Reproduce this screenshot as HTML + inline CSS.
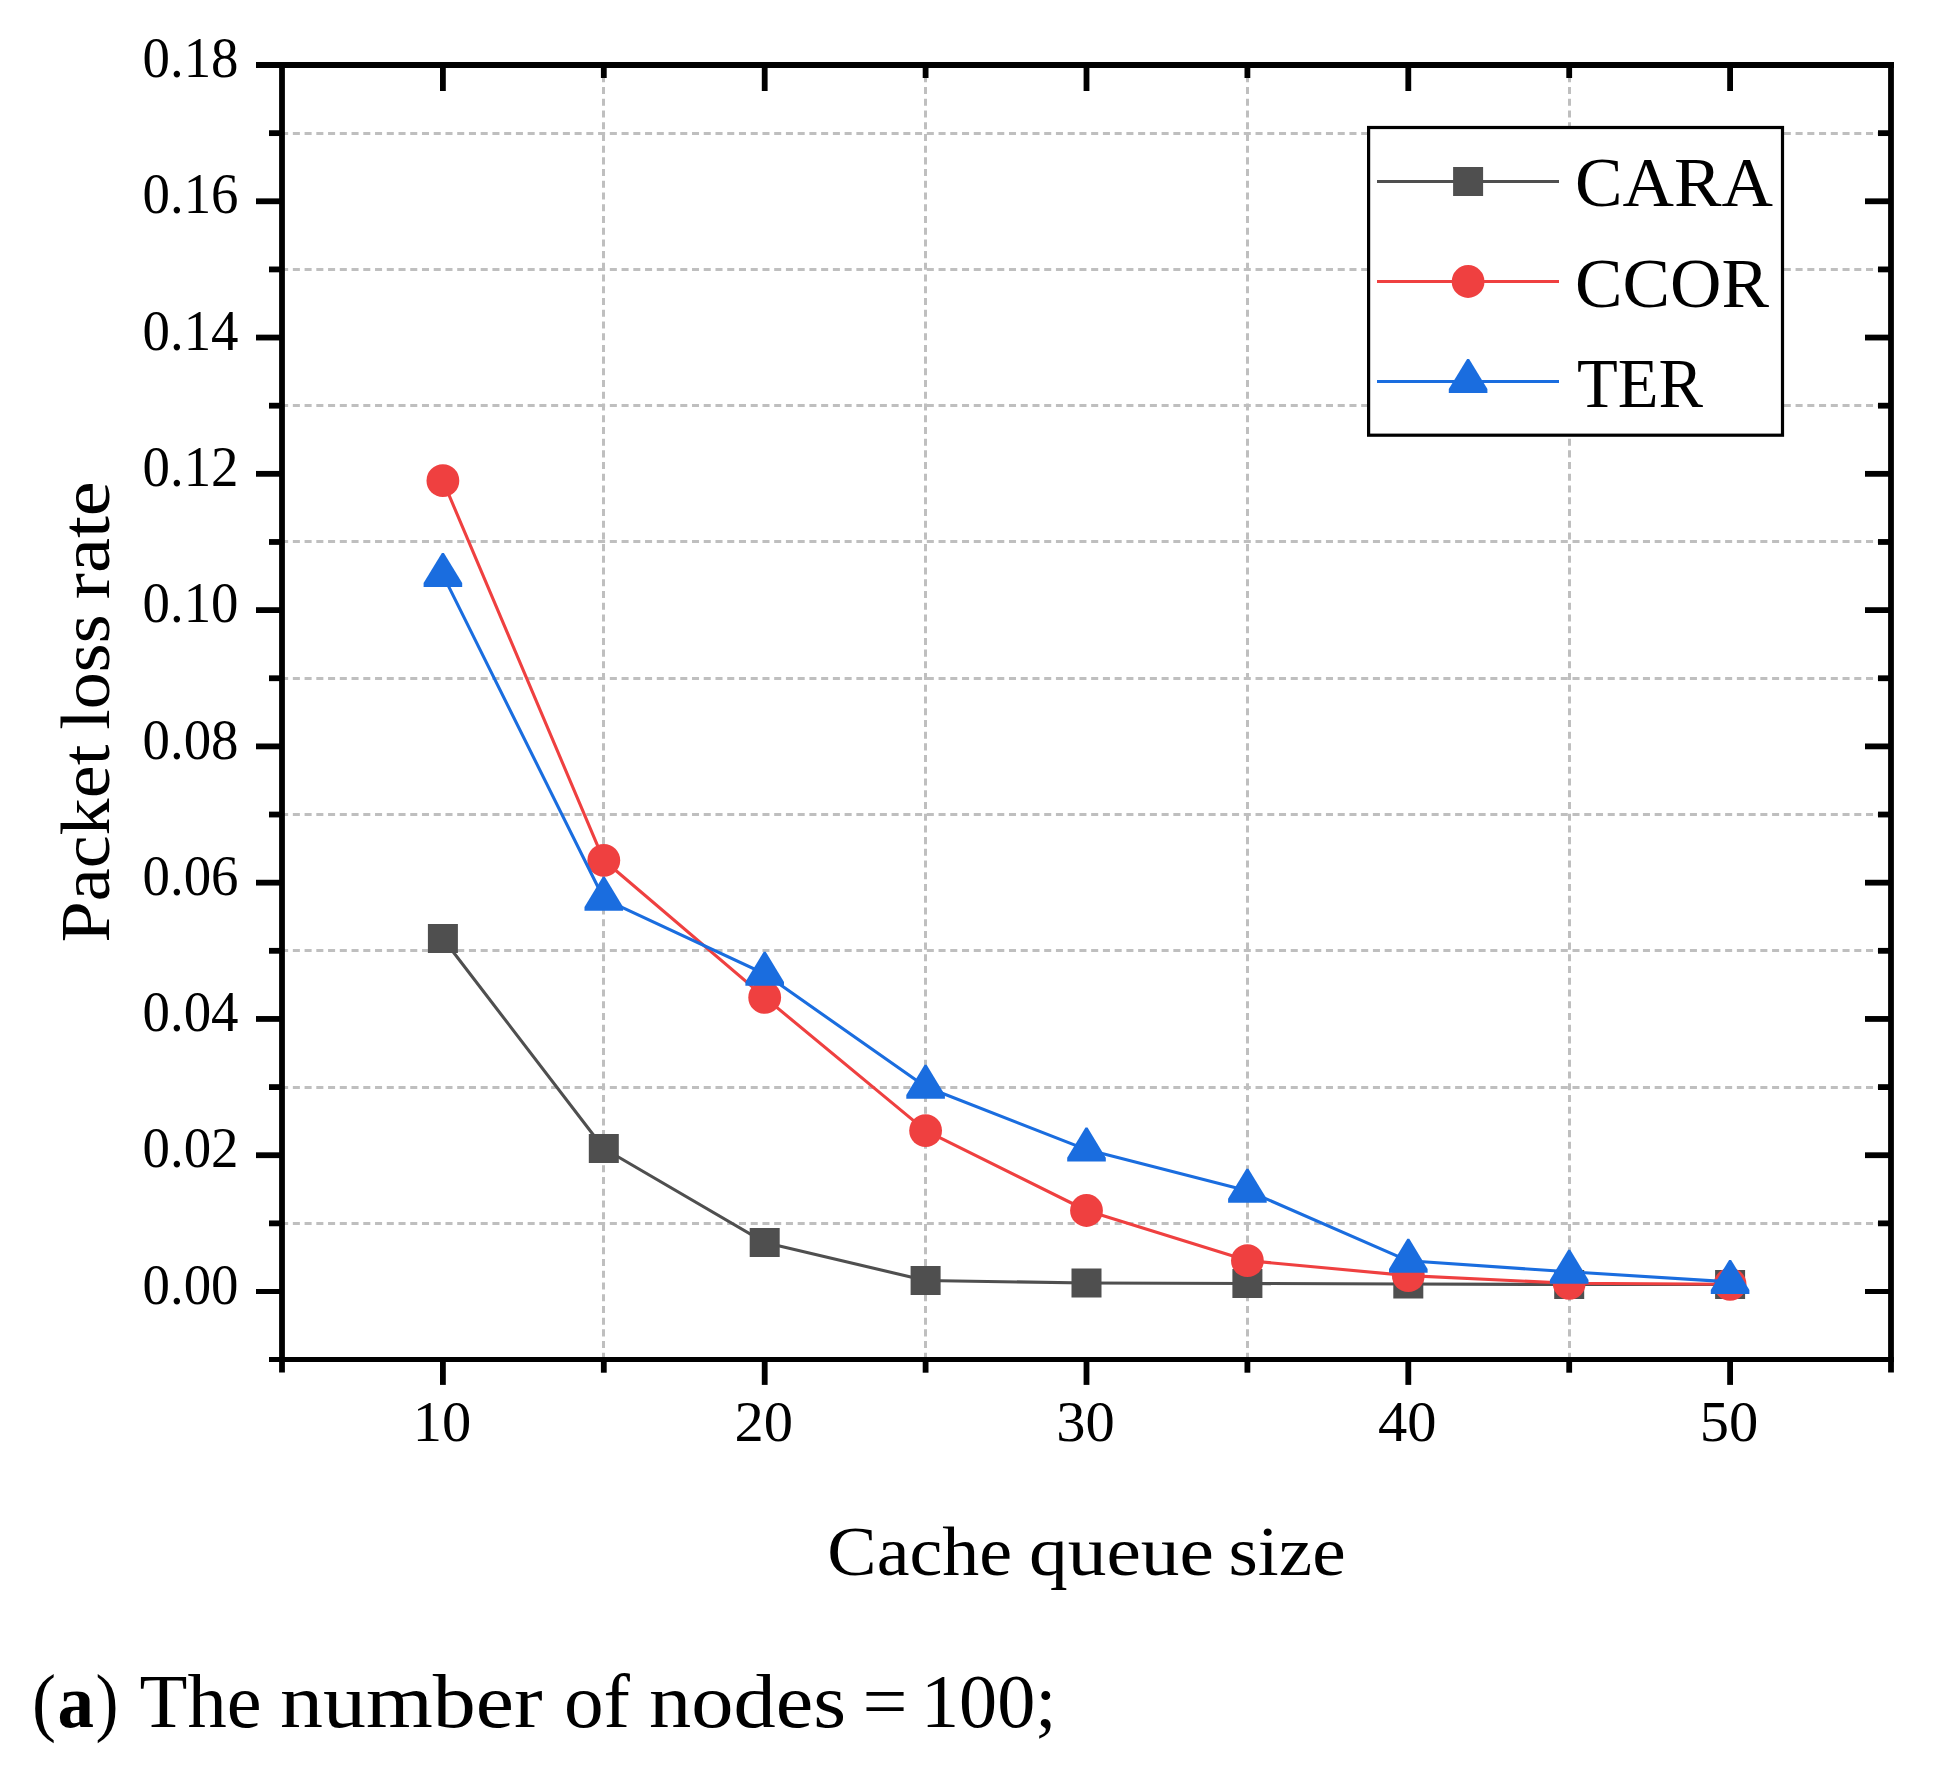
<!DOCTYPE html>
<html lang="en">
<head>
<meta charset="utf-8">
<title>Packet loss rate vs cache queue size</title>
<style>
html,body{margin:0;padding:0;background:#fff;}
body{width:1934px;height:1771px;overflow:hidden;}
svg{display:block;}
text{font-family:"Liberation Serif",serif;fill:#000;}
.tk{font-size:57.5px;}
.ti{font-size:69px;}
.lg{font-size:70px;}
.cp{font-size:76px;}
</style>
</head>
<body>
<svg width="1934" height="1771" viewBox="0 0 1934 1771">
<rect x="0" y="0" width="1934" height="1771" fill="#ffffff"/>
<g stroke="#bfbfbf" stroke-width="3" stroke-dasharray="7.04 4.7" fill="none">
<line x1="281.1" y1="1223.50" x2="1891.0" y2="1223.50"/>
<line x1="281.1" y1="1087.50" x2="1891.0" y2="1087.50"/>
<line x1="281.1" y1="950.50" x2="1891.0" y2="950.50"/>
<line x1="281.1" y1="814.50" x2="1891.0" y2="814.50"/>
<line x1="281.1" y1="678.50" x2="1891.0" y2="678.50"/>
<line x1="281.1" y1="541.50" x2="1891.0" y2="541.50"/>
<line x1="281.1" y1="405.50" x2="1891.0" y2="405.50"/>
<line x1="281.1" y1="269.50" x2="1891.0" y2="269.50"/>
<line x1="281.1" y1="133.50" x2="1891.0" y2="133.50"/>
<line x1="603.50" y1="63.6" x2="603.50" y2="1359.6" stroke-dasharray="7.03 4.69"/>
<line x1="925.50" y1="63.6" x2="925.50" y2="1359.6" stroke-dasharray="7.03 4.69"/>
<line x1="1247.50" y1="63.6" x2="1247.50" y2="1359.6" stroke-dasharray="7.03 4.69"/>
<line x1="1569.50" y1="63.6" x2="1569.50" y2="1359.6" stroke-dasharray="7.03 4.69"/>
</g>
<g>
<polyline fill="none" stroke="#4f4f4f" stroke-width="3.1" stroke-linejoin="round" points="442.9,938.5 603.8,1148.5 764.7,1242.5 925.6,1280.5 1086.5,1283.0 1247.4,1283.5 1408.3,1284.0 1569.2,1284.5 1730.1,1284.5"/>
<rect x="427.9" y="924.0" width="30.0" height="29.0" fill="#4f4f4f"/>
<rect x="588.8" y="1134.0" width="30.0" height="29.0" fill="#4f4f4f"/>
<rect x="749.7" y="1228.0" width="30.0" height="29.0" fill="#4f4f4f"/>
<rect x="910.6" y="1266.0" width="30.0" height="29.0" fill="#4f4f4f"/>
<rect x="1071.5" y="1268.5" width="30.0" height="29.0" fill="#4f4f4f"/>
<rect x="1232.4" y="1269.0" width="30.0" height="29.0" fill="#4f4f4f"/>
<rect x="1393.3" y="1269.5" width="30.0" height="29.0" fill="#4f4f4f"/>
<rect x="1554.2" y="1270.0" width="30.0" height="29.0" fill="#4f4f4f"/>
<rect x="1715.1" y="1270.0" width="30.0" height="29.0" fill="#4f4f4f"/>
</g>
<g>
<polyline fill="none" stroke="#ef4040" stroke-width="3.1" stroke-linejoin="round" points="442.9,480.7 603.8,860.3 764.7,997.4 925.6,1130.6 1086.5,1210.5 1247.4,1260.6 1408.3,1275.6 1569.2,1283.3 1730.1,1284.3"/>
<circle cx="442.9" cy="480.7" r="16.4" fill="#ef4040"/>
<circle cx="603.8" cy="860.3" r="16.4" fill="#ef4040"/>
<circle cx="764.7" cy="997.4" r="16.4" fill="#ef4040"/>
<circle cx="925.6" cy="1130.6" r="16.4" fill="#ef4040"/>
<circle cx="1086.5" cy="1210.5" r="16.4" fill="#ef4040"/>
<circle cx="1247.4" cy="1260.6" r="16.4" fill="#ef4040"/>
<circle cx="1408.3" cy="1275.6" r="16.4" fill="#ef4040"/>
<circle cx="1569.2" cy="1283.3" r="16.4" fill="#ef4040"/>
<circle cx="1730.1" cy="1284.3" r="16.4" fill="#ef4040"/>
</g>
<g>
<polyline fill="none" stroke="#1a6ddf" stroke-width="3.1" stroke-linejoin="round" points="442.9,574.9 603.8,898.8 764.7,973.8 925.6,1086.8 1086.5,1149.6 1247.4,1190.7 1408.3,1260.8 1569.2,1271.8 1730.1,1281.9"/>
<polygon points="441.9,552.9 443.9,552.9 462.2,583.0 462.2,586.9 423.6,586.9 423.6,583.0" fill="#1a6ddf"/>
<polygon points="602.8,876.8 604.8,876.8 623.1,906.9 623.1,910.8 584.5,910.8 584.5,906.9" fill="#1a6ddf"/>
<polygon points="763.7,951.8 765.7,951.8 784.0,981.9 784.0,985.8 745.4,985.8 745.4,981.9" fill="#1a6ddf"/>
<polygon points="924.6,1064.8 926.6,1064.8 944.9,1094.9 944.9,1098.8 906.3,1098.8 906.3,1094.9" fill="#1a6ddf"/>
<polygon points="1085.5,1127.6 1087.5,1127.6 1105.8,1157.7 1105.8,1161.6 1067.2,1161.6 1067.2,1157.7" fill="#1a6ddf"/>
<polygon points="1246.4,1168.7 1248.4,1168.7 1266.7,1198.8 1266.7,1202.7 1228.1,1202.7 1228.1,1198.8" fill="#1a6ddf"/>
<polygon points="1407.3,1238.8 1409.3,1238.8 1427.6,1268.9 1427.6,1272.8 1389.0,1272.8 1389.0,1268.9" fill="#1a6ddf"/>
<polygon points="1568.2,1249.8 1570.2,1249.8 1588.5,1279.9 1588.5,1283.8 1549.9,1283.8 1549.9,1279.9" fill="#1a6ddf"/>
<polygon points="1729.1,1259.9 1731.1,1259.9 1749.4,1290.0 1749.4,1293.9 1710.8,1293.9 1710.8,1290.0" fill="#1a6ddf"/>
</g>
<g stroke="#000" stroke-width="5.8" fill="none" stroke-linecap="butt">
<line x1="256.0" y1="65.0" x2="1893.9" y2="65.0" stroke-width="6"/>
<line x1="269.0" y1="1359.6" x2="1893.9" y2="1359.6" stroke-width="5"/>
<line x1="282.0" y1="62.1" x2="282.0" y2="1372.6"/>
<line x1="1891.0" y1="62.1" x2="1891.0" y2="1372.6"/>
<line x1="256.0" y1="1291.50" x2="282.0" y2="1291.50" stroke-width="5"/>
<line x1="1865.0" y1="1291.50" x2="1891.0" y2="1291.50" stroke-width="5"/>
<line x1="269.0" y1="1223.36" x2="282.0" y2="1223.36"/>
<line x1="1878.0" y1="1223.36" x2="1891.0" y2="1223.36"/>
<line x1="256.0" y1="1155.22" x2="282.0" y2="1155.22"/>
<line x1="1865.0" y1="1155.22" x2="1891.0" y2="1155.22"/>
<line x1="269.0" y1="1087.08" x2="282.0" y2="1087.08"/>
<line x1="1878.0" y1="1087.08" x2="1891.0" y2="1087.08"/>
<line x1="256.0" y1="1018.94" x2="282.0" y2="1018.94"/>
<line x1="1865.0" y1="1018.94" x2="1891.0" y2="1018.94"/>
<line x1="269.0" y1="950.81" x2="282.0" y2="950.81"/>
<line x1="1878.0" y1="950.81" x2="1891.0" y2="950.81"/>
<line x1="256.0" y1="882.67" x2="282.0" y2="882.67"/>
<line x1="1865.0" y1="882.67" x2="1891.0" y2="882.67"/>
<line x1="269.0" y1="814.53" x2="282.0" y2="814.53"/>
<line x1="1878.0" y1="814.53" x2="1891.0" y2="814.53"/>
<line x1="256.0" y1="746.39" x2="282.0" y2="746.39"/>
<line x1="1865.0" y1="746.39" x2="1891.0" y2="746.39"/>
<line x1="269.0" y1="678.25" x2="282.0" y2="678.25"/>
<line x1="1878.0" y1="678.25" x2="1891.0" y2="678.25"/>
<line x1="256.0" y1="610.11" x2="282.0" y2="610.11"/>
<line x1="1865.0" y1="610.11" x2="1891.0" y2="610.11"/>
<line x1="269.0" y1="541.97" x2="282.0" y2="541.97"/>
<line x1="1878.0" y1="541.97" x2="1891.0" y2="541.97"/>
<line x1="256.0" y1="473.83" x2="282.0" y2="473.83"/>
<line x1="1865.0" y1="473.83" x2="1891.0" y2="473.83"/>
<line x1="269.0" y1="405.69" x2="282.0" y2="405.69"/>
<line x1="1878.0" y1="405.69" x2="1891.0" y2="405.69"/>
<line x1="256.0" y1="337.55" x2="282.0" y2="337.55"/>
<line x1="1865.0" y1="337.55" x2="1891.0" y2="337.55"/>
<line x1="269.0" y1="269.42" x2="282.0" y2="269.42"/>
<line x1="1878.0" y1="269.42" x2="1891.0" y2="269.42"/>
<line x1="256.0" y1="201.28" x2="282.0" y2="201.28"/>
<line x1="1865.0" y1="201.28" x2="1891.0" y2="201.28"/>
<line x1="269.0" y1="133.14" x2="282.0" y2="133.14"/>
<line x1="1878.0" y1="133.14" x2="1891.0" y2="133.14"/>
<line x1="442.90" y1="65.0" x2="442.90" y2="91.0"/>
<line x1="442.90" y1="1359.6" x2="442.90" y2="1384.9"/>
<line x1="603.80" y1="65.0" x2="603.80" y2="78.0"/>
<line x1="603.80" y1="1359.6" x2="603.80" y2="1372.7"/>
<line x1="764.70" y1="65.0" x2="764.70" y2="91.0"/>
<line x1="764.70" y1="1359.6" x2="764.70" y2="1384.9"/>
<line x1="925.60" y1="65.0" x2="925.60" y2="78.0"/>
<line x1="925.60" y1="1359.6" x2="925.60" y2="1372.7"/>
<line x1="1086.50" y1="65.0" x2="1086.50" y2="91.0"/>
<line x1="1086.50" y1="1359.6" x2="1086.50" y2="1384.9"/>
<line x1="1247.40" y1="65.0" x2="1247.40" y2="78.0"/>
<line x1="1247.40" y1="1359.6" x2="1247.40" y2="1372.7"/>
<line x1="1408.30" y1="65.0" x2="1408.30" y2="91.0"/>
<line x1="1408.30" y1="1359.6" x2="1408.30" y2="1384.9"/>
<line x1="1569.20" y1="65.0" x2="1569.20" y2="78.0"/>
<line x1="1569.20" y1="1359.6" x2="1569.20" y2="1372.7"/>
<line x1="1730.10" y1="65.0" x2="1730.10" y2="91.0"/>
<line x1="1730.10" y1="1359.6" x2="1730.10" y2="1384.9"/>
</g>
<g class="tk">
<text x="238.5" y="1303.6" text-anchor="end" textLength="96" lengthAdjust="spacingAndGlyphs">0.00</text>
<text x="238.5" y="1167.3" text-anchor="end" textLength="96" lengthAdjust="spacingAndGlyphs">0.02</text>
<text x="238.5" y="1031.0" text-anchor="end" textLength="96" lengthAdjust="spacingAndGlyphs">0.04</text>
<text x="238.5" y="894.8" text-anchor="end" textLength="96" lengthAdjust="spacingAndGlyphs">0.06</text>
<text x="238.5" y="758.5" text-anchor="end" textLength="96" lengthAdjust="spacingAndGlyphs">0.08</text>
<text x="238.5" y="622.2" text-anchor="end" textLength="96" lengthAdjust="spacingAndGlyphs">0.10</text>
<text x="238.5" y="485.9" text-anchor="end" textLength="96" lengthAdjust="spacingAndGlyphs">0.12</text>
<text x="238.5" y="349.7" text-anchor="end" textLength="96" lengthAdjust="spacingAndGlyphs">0.14</text>
<text x="238.5" y="213.4" text-anchor="end" textLength="96" lengthAdjust="spacingAndGlyphs">0.16</text>
<text x="238.5" y="77.1" text-anchor="end" textLength="96" lengthAdjust="spacingAndGlyphs">0.18</text>
<text x="441.9" y="1441.3" text-anchor="middle" textLength="58.5" lengthAdjust="spacingAndGlyphs">10</text>
<text x="763.7" y="1441.3" text-anchor="middle" textLength="58.5" lengthAdjust="spacingAndGlyphs">20</text>
<text x="1085.5" y="1441.3" text-anchor="middle" textLength="58.5" lengthAdjust="spacingAndGlyphs">30</text>
<text x="1407.3" y="1441.3" text-anchor="middle" textLength="58.5" lengthAdjust="spacingAndGlyphs">40</text>
<text x="1729.1" y="1441.3" text-anchor="middle" textLength="58.5" lengthAdjust="spacingAndGlyphs">50</text>
</g>
<g class="ti">
<text x="827.36" y="1575" textLength="184.75" lengthAdjust="spacingAndGlyphs">Cache</text>
<text x="1029.00" y="1575" textLength="184.80" lengthAdjust="spacingAndGlyphs">queue</text>
<text x="1228.56" y="1575" textLength="117.12" lengthAdjust="spacingAndGlyphs">size</text>
</g>
<g class="ti" transform="translate(109.0,0) rotate(-90)">
<text x="-942.52" y="0" textLength="197.79" lengthAdjust="spacingAndGlyphs">Packet</text>
<text x="-729.84" y="0" textLength="115.37" lengthAdjust="spacingAndGlyphs">loss</text>
<text x="-599.36" y="0" textLength="118.20" lengthAdjust="spacingAndGlyphs">rate</text>
</g>
<g>
<rect x="1368.6" y="127.5" width="413.9" height="307.7" fill="#fff" stroke="#000" stroke-width="3.2"/>
<line x1="1377" y1="181.5" x2="1559" y2="181.5" stroke="#4f4f4f" stroke-width="3.1"/>
<rect x="1453.1" y="167.0" width="30.0" height="29.0" fill="#4f4f4f"/>
<text class="lg" x="1575.0" y="206.0" textLength="198" lengthAdjust="spacingAndGlyphs">CARA</text>
<line x1="1377" y1="281.5" x2="1559" y2="281.5" stroke="#ef4040" stroke-width="3.1"/>
<circle cx="1468.1" cy="281.5" r="16.4" fill="#ef4040"/>
<text class="lg" x="1575.0" y="306.5" textLength="194" lengthAdjust="spacingAndGlyphs">CCOR</text>
<line x1="1377" y1="381.5" x2="1559" y2="381.5" stroke="#1a6ddf" stroke-width="3.1"/>
<polygon points="1467.1,359.0 1469.1,359.0 1487.4,389.1 1487.4,393.0 1448.8,393.0 1448.8,389.1" fill="#1a6ddf"/>
<text class="lg" x="1577.0" y="407.0" textLength="126" lengthAdjust="spacingAndGlyphs">TER</text>
</g>
<g class="cp">
<text x="32.0" y="1727" textLength="24" lengthAdjust="spacingAndGlyphs">(</text>
<text x="57.5" y="1727" font-weight="bold" textLength="36.5" lengthAdjust="spacingAndGlyphs">a</text>
<text x="95.5" y="1727" textLength="23" lengthAdjust="spacingAndGlyphs">)</text>
<text x="139.5" y="1727" textLength="122" lengthAdjust="spacingAndGlyphs">The</text>
<text x="280.0" y="1727" textLength="262.5" lengthAdjust="spacingAndGlyphs">number</text>
<text x="564.0" y="1727" textLength="66" lengthAdjust="spacingAndGlyphs">of</text>
<text x="649.0" y="1727" textLength="197" lengthAdjust="spacingAndGlyphs">nodes</text>
<text x="862.5" y="1727" textLength="45" lengthAdjust="spacingAndGlyphs">=</text>
<text x="921.0" y="1727" textLength="135.5" lengthAdjust="spacingAndGlyphs">100;</text>
</g>
</svg>
</body>
</html>
